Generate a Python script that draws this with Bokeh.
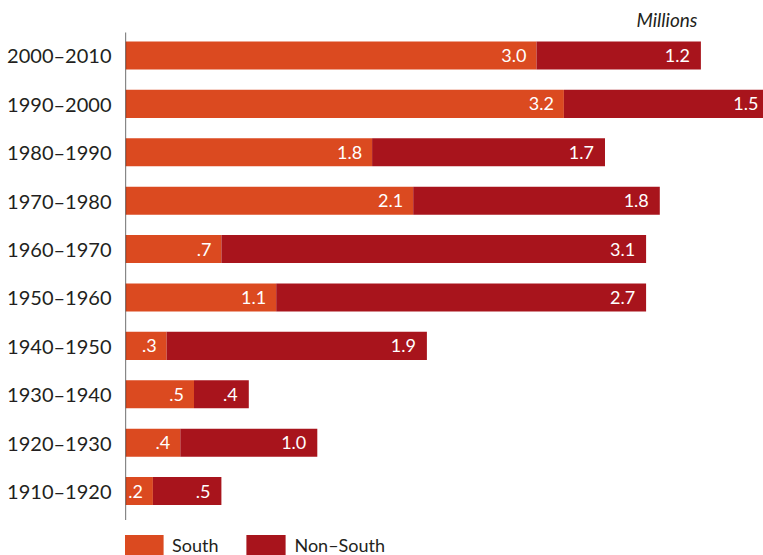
from bokeh.plotting import figure
from bokeh.models import ColumnDataSource, FixedTicker, Legend, LegendItem, Label, Range1d
from bokeh.core.properties import value
from bokeh.embed import file_html
from bokeh.resources import INLINE

# Decades, listed bottom to top
decades = ["1910–1920", "1920–1930", "1930–1940", "1940–1950", "1950–1960",
           "1960–1970", "1970–1980", "1980–1990", "1990–2000", "2000–2010"]
# Black migration by destination, millions
south = [0.2, 0.4, 0.5, 0.3, 1.1, 0.7, 2.1, 1.8, 3.2, 3.0]
non_south = [0.5, 1.0, 0.4, 1.9, 2.7, 3.1, 1.8, 1.7, 1.5, 1.2]

SOUTH_COLOR = "#DB4A20"
NON_SOUTH_COLOR = "#A8141C"
FONT = "Lato"


def fmt(v):
    return f"{v:.1f}".lstrip("0")


idx = list(range(len(decades)))
total = [s + n for s, n in zip(south, non_south)]

src = ColumnDataSource(dict(
    y=idx,
    south=south,
    non_south=non_south,
    total=total,
    south_lbl=[fmt(v) for v in south],
    non_lbl=[fmt(v) for v in non_south],
))

p = figure(width=763, height=555, output_backend="svg", toolbar_location=None,
           x_range=Range1d(0, 4.657), y_range=Range1d(-1.331, 10.136),
           min_border=0, min_border_left=125)
p.outline_line_color = None
p.grid.visible = False
p.xaxis.visible = False
p.background_fill_color = "white"
p.border_fill_color = "white"

r_s = p.hbar(y="y", left=0, right="south", height=0.58, source=src,
             fill_color=SOUTH_COLOR, line_color=None)
r_n = p.hbar(y="y", left="south", right="total", height=0.58, source=src,
             fill_color=NON_SOUTH_COLOR, line_color=None)

# Segment values, right-aligned inside each segment
p.text(x="south", y="y", text="south_lbl", source=src, text_align="right",
       text_baseline="middle", x_offset=-10, text_color="white",
       text_font=value(FONT), text_font_size="18px")
p.text(x="total", y="y", text="non_lbl", source=src, text_align="right",
       text_baseline="middle", x_offset=-11, text_color="white",
       text_font=value(FONT), text_font_size="18px")

# Vertical axis line, stopping short of the legend
p.segment(x0=0, y0=-0.6, x1=0, y1=9.475, line_color="#111111", line_width=1.2)

yax = p.yaxis[0]
yax.ticker = FixedTicker(ticks=idx)
yax.major_label_overrides = {i: d for i, d in zip(idx, decades)}
yax.axis_line_color = None
yax.major_tick_line_color = None
yax.minor_tick_line_color = None
yax.major_tick_in = 0
yax.major_tick_out = 0
yax.major_label_standoff = 14
yax.major_label_text_font = FONT
yax.major_label_text_font_size = "20px"
yax.major_label_text_color = "#231F20"

p.add_layout(Label(x=4.175, y=9.74, text="Millions", text_align="right",
                   text_baseline="middle", text_font=FONT, text_font_size="19px",
                   text_font_style="italic", text_color="#231F20"))

legend = Legend(items=[LegendItem(label="South", renderers=[r_s]),
                       LegendItem(label="Non–South", renderers=[r_n])],
                location=(-6, -3), orientation="horizontal",
                glyph_width=49, glyph_height=26, label_height=26,
                label_standoff=4, spacing=23, padding=0, margin=0,
                border_line_color=None, background_fill_alpha=0,
                label_text_font=FONT, label_text_font_size="18px",
                label_text_color="#231F20")
p.add_layout(legend, "center")

open("out.html", "w").write(file_html(p, INLINE))
